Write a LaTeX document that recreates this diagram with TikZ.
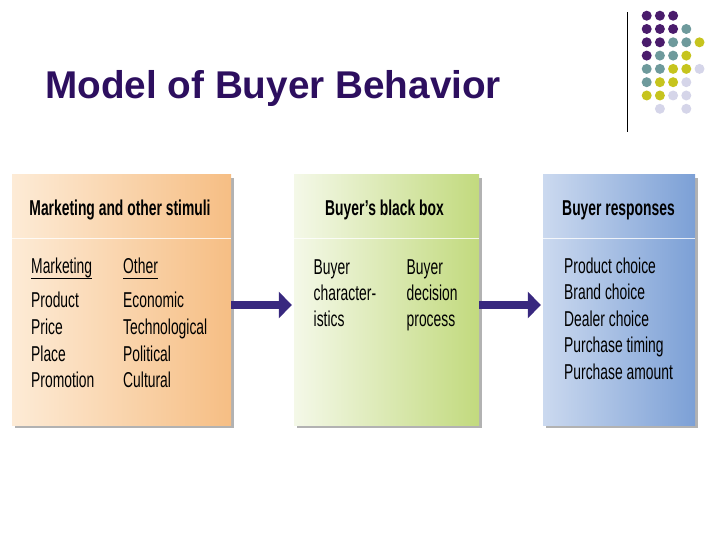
\documentclass[tikz,border=0pt]{standalone}
\usepackage{fontspec}
\setmainfont{Liberation Sans}
\newfontfamily\narrowfont[FakeStretch=0.645]{Liberation Sans}
\usetikzlibrary{arrows.meta,shadows}
\definecolor{titleblue}{HTML}{2D0F5F}
\definecolor{arrowblue}{HTML}{38287F}
\definecolor{stimL}{HTML}{FDEBD6}
\definecolor{stimR}{HTML}{F6BE84}
\definecolor{boxL}{HTML}{F4F8E8}
\definecolor{boxR}{HTML}{C2DA7E}
\definecolor{respL}{HTML}{CBD9EF}
\definecolor{respR}{HTML}{7CA0D6}
\definecolor{dotP}{HTML}{4A1C6C}
\definecolor{dotT}{HTML}{6E9A9C}
\definecolor{dotY}{HTML}{C6C41E}
\definecolor{dotL}{HTML}{D5D5E9}

\tikzset{
  panel/.style={inner sep=0pt, minimum height=250pt,
    general shadow={fill=black!30, shadow xshift=3pt, shadow yshift=-3pt}},
  divider/.style={draw=white, line width=1pt, opacity=0.8},
  flow/.style={draw=arrowblue, line width=8pt, -{Triangle[length=13pt,width=26pt]}, shorten >=2pt},
  head/.style={font=\narrowfont\bfseries\fontsize{21.5}{25}\selectfont, anchor=base, inner sep=0pt},
  txt/.style={font=\narrowfont\fontsize{21.5}{25}\selectfont, anchor=base west, inner sep=0pt},
  colhead/.style={text depth=4.5pt},
  dot/.style={radius=5pt}
}

\begin{document}
\begin{tikzpicture}[x=1pt,y=-1pt]
    \useasboundingbox (0,0) rectangle (720,540);
    %title
        \node[font=\bfseries\fontsize{38.7}{44}\selectfont, text=titleblue, anchor=base west, inner sep=0pt] (title) at (45,98.3) {Model of Buyer Behavior};
    %corner dots
        \draw[thin] (627.3,12.3) -- (627.3,132.3);
        \foreach \c/\r in {0/0,1/0,2/0,0/1,1/1,2/1,0/2,1/2,0/3}
            \fill[dotP] (646.7+13.2*\c, 15.7+13.3*\r) circle[dot];
        \foreach \c/\r in {3/1,2/2,3/2,1/3,2/3,0/4,1/4,0/5}
            \fill[dotT] (646.7+13.2*\c, 15.7+13.3*\r) circle[dot];
        \foreach \c/\r in {4/2,3/3,2/4,3/4,1/5,2/5,0/6,1/6}
            \fill[dotY] (646.7+13.2*\c, 15.7+13.3*\r) circle[dot];
        \foreach \c/\r in {4/4,3/5,2/6,3/6,1/7,3/7}
            \fill[dotL] (646.7+13.2*\c, 15.7+13.3*\r) circle[dot];
    %boxes
        \node[panel, minimum width=219pt, left color=stimL, right color=stimR] (stim) at (121.5,300) {};
        \node[panel, minimum width=185pt, left color=boxL, right color=boxR] (bbox) at (386.5,300) {};
        \node[panel, minimum width=152pt, left color=respL, right color=respR] (resp) at (619,300) {};
        \draw[divider] (stim.west |- 0,238) -- (stim.east |- 0,238);
        \draw[divider] (bbox.west |- 0,238) -- (bbox.east |- 0,238);
        \draw[divider] (resp.west |- 0,238) -- (resp.east |- 0,238);
    %arrows
        \draw[flow] ([yshift=-5pt]stim.east) -- ([yshift=-5pt]bbox.west);
        \draw[flow] ([yshift=-5pt]bbox.east) -- ([yshift=-5pt]resp.west);
    %stimuli
        \node[head] (stimhead) at (120,215) {Marketing and other stimuli};
        \node[txt, colhead] (mkt) at (31,273) {Marketing};
            \draw[thin] (mkt.south west) -- (mkt.south east);
        \node[txt, colhead] (oth) at (123,273) {Other};
            \draw[thin] (oth.south west) -- (oth.south east);
        \node[txt] (m1) at (31,307.7) {Product};
        \node[txt] (m2) at (31,334.3) {Price};
        \node[txt] (m3) at (31,361) {Place};
        \node[txt] (m4) at (31,387.7) {Promotion};
        \node[txt] (o1) at (123,307.7) {Economic};
        \node[txt] (o2) at (123,334.3) {Technological};
        \node[txt] (o3) at (123,361) {Political};
        \node[txt] (o4) at (123,387.7) {Cultural};
    %black box
        \node[head] (bboxhead) at (384.5,215) {Buyer’s black box};
        \node[txt] (c1) at (313.5,274) {Buyer};
        \node[txt] (c2) at (313.5,300) {character-};
        \node[txt] (c3) at (313.5,326) {istics};
        \node[txt] (d1) at (406.5,274) {Buyer};
        \node[txt] (d2) at (406.5,300) {decision};
        \node[txt] (d3) at (406.5,326) {process};
    %responses
        \node[head] (resphead) at (618.5,215) {Buyer responses};
        \node[txt] (r1) at (564,273) {Product choice};
        \node[txt] (r2) at (564,299.5) {Brand choice};
        \node[txt] (r3) at (564,326) {Dealer choice};
        \node[txt] (r4) at (564,352.5) {Purchase timing};
        \node[txt] (r5) at (564,379) {Purchase amount};
\end{tikzpicture}
\end{document}
